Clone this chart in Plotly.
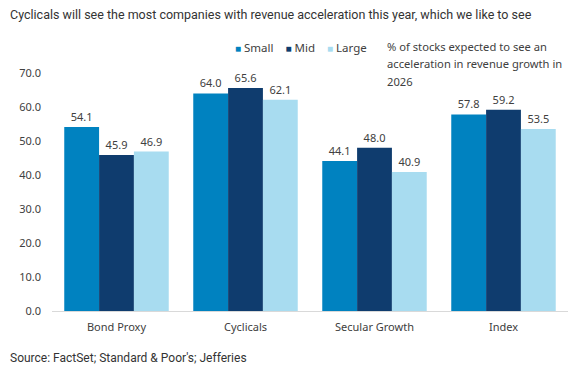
import plotly.graph_objects as go

categories = ["Bond Proxy", "Cyclicals", "Secular Growth", "Index"]
small = [54.1, 64.0, 44.1, 57.8]
mid = [45.9, 65.6, 48.0, 59.2]
large = [46.9, 62.1, 40.9, 53.5]
series_names = ["Small", "Mid", "Large"]
colors = ["#0082C0", "#0F3C6E", "#A8DCF0"]
y_ticks = [0, 10, 20, 30, 40, 50, 60, 70]

title = "Cyclicals will see the most companies with revenue acceleration this year, which we like to see"
source = "Source: FactSet; Standard &amp; Poor's; Jefferies"
note_lines = ["% of stocks expected to see an", "acceleration in revenue growth in", "2026"]

chart_font = "Noto Sans, Open Sans, sans-serif"
text_color = "#404040"

W, H = 579, 373
ML, MR, MT, MB = 52, 11, 73, 62

fig = go.Figure()
for name, vals, col in zip(series_names, [small, mid, large], colors):
    fig.add_trace(go.Bar(
        x=categories, y=vals, name=name, marker=dict(color=col, line=dict(width=0)),
        text=[f"{v:.1f}" for v in vals], textposition="outside",
        textfont=dict(family=chart_font, size=11, color=text_color),
        cliponaxis=False, showlegend=False,
    ))

legend_text = "    ".join(
    f"<span style='color:{c};font-size:10px'>■</span> <span style='color:{text_color}'>{n}</span>"
    for n, c in zip(series_names, colors)
)

pw = W - ML - MR
ph = H - MT - MB


def px_x(x):
    return (x - ML) / pw


def px_y(y_from_top):
    return (H - y_from_top - MB) / ph


annotations = [
    dict(text=title, x=px_x(8), y=px_y(15), xref="paper", yref="paper", showarrow=False,
         xanchor="left", yanchor="middle",
         font=dict(family="Roboto", size=12.5, color="#333333")),
    dict(text=source, x=px_x(8), y=px_y(358), xref="paper", yref="paper", showarrow=False,
         xanchor="left", yanchor="middle",
         font=dict(family="Roboto", size=12, color="#333333")),
    dict(text=legend_text, x=px_x(233), y=px_y(47.5), xref="paper", yref="paper",
         showarrow=False, xanchor="left", yanchor="middle",
         font=dict(family=chart_font, size=11.5, color=text_color)),
]
for i, line in enumerate(note_lines):
    annotations.append(dict(
        text=line, x=px_x(385), y=px_y(47 + 17 * i), xref="paper", yref="paper",
        showarrow=False, xanchor="left", yanchor="middle", align="left",
        font=dict(family=chart_font, size=11.2, color=text_color)))

fig.update_layout(
    width=W, height=H,
    margin=dict(l=ML, r=MR, t=MT, b=MB, autoexpand=False),
    paper_bgcolor="white", plot_bgcolor="white",
    barmode="group", bargap=0.19, bargroupgap=0,
    font=dict(family=chart_font, size=11, color=text_color),
    xaxis=dict(showgrid=False, showline=True, linecolor="#D9D9D9", linewidth=1,
               ticks="", automargin=False, ticklabelstandoff=6,
               tickfont=dict(size=11, color=text_color)),
    yaxis=dict(range=[0, 70], tickvals=y_ticks, ticktext=[f"{v:.1f}" for v in y_ticks],
               showgrid=False, zeroline=False, showline=False, ticks="", automargin=False,
               tickfont=dict(size=11, color=text_color), ticklabelstandoff=10),
    annotations=annotations,
)

fig.write_html("out.html", config={"displayModeBar": False},
               post_script="document.body.style.margin='0';")
